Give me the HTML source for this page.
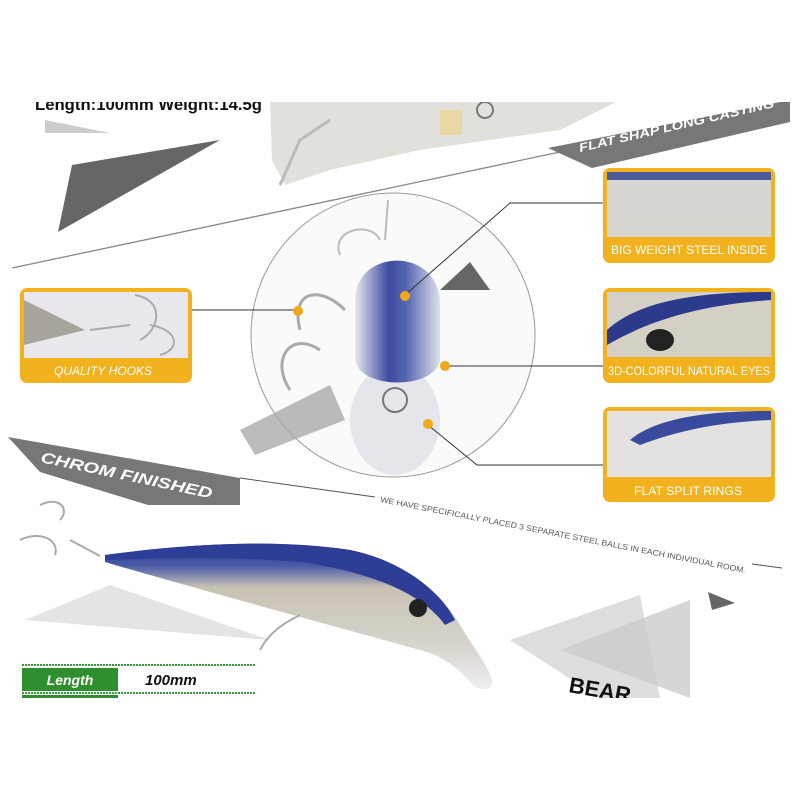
<!DOCTYPE html>
<html><head><meta charset="utf-8"><style>
html,body{margin:0;padding:0;background:#fff;width:800px;height:800px;overflow:hidden}
svg{display:block}
text{font-family:"Liberation Sans",sans-serif}
</style></head><body>
<svg width="800" height="800" viewBox="0 0 800 800" xmlns="http://www.w3.org/2000/svg">
<defs>
<clipPath id="c"><rect x="0" y="102" width="800" height="596"/></clipPath>
<linearGradient id="body" x1="0" y1="0" x2="0" y2="1"><stop offset="0" stop-color="#2a3a8c"/><stop offset="0.15" stop-color="#4a5aa8"/><stop offset="0.3" stop-color="#c8c2b4"/><stop offset="0.7" stop-color="#d8d4cc"/><stop offset="1" stop-color="#eeeef2"/></linearGradient>
<linearGradient id="head" x1="0" y1="0" x2="1" y2="0"><stop offset="0" stop-color="#e8e8f0"/><stop offset="0.4" stop-color="#3b4aa0"/><stop offset="0.6" stop-color="#5566b0"/><stop offset="1" stop-color="#e0e0ea"/></linearGradient>
</defs>
<g clip-path="url(#c)">
<text x="35" y="110" font-size="17" font-weight="bold" fill="#111" textLength="227" lengthAdjust="spacingAndGlyphs">Length:100mm Weight:14.5g</text>
<polygon points="45,120 110,133 45,133" fill="#ccc"/>
<polygon points="72,165 220,140 58,232" fill="#666"/>
<!-- top lure -->
<path d="M270,100 L620,100 L560,130 L420,150 L330,170 L285,185 L272,160 Z" fill="#e2e0da"/>
<path d="M280,185 L300,140 L330,120" stroke="#bbb" stroke-width="3" fill="none"/>
<rect x="440" y="110" width="22" height="25" fill="#e8d8a8"/>
<circle cx="485" cy="110" r="8" fill="none" stroke="#777" stroke-width="2"/>
<line x1="12" y1="268" x2="560" y2="152" stroke="#888" stroke-width="1.3"/>
<polygon points="548,148 780,102 790,102 790,122 592,168" fill="#777"/>
<text x="0" y="0" font-size="12" font-weight="bold" font-style="italic" fill="#fff" transform="translate(580,152) rotate(-13)" textLength="200" lengthAdjust="spacingAndGlyphs">FLAT SHAP LONG CASTING</text>
<!-- circle -->
<circle cx="393" cy="335" r="142" fill="#fafafa" stroke="#999" stroke-width="1"/>
<polygon points="470,262 490,290 440,290" fill="#666"/>
<polygon points="240,430 330,385 345,420 255,455" fill="#aaa" opacity="0.8"/>
<path d="M300,330 C290,290 320,285 345,310 M290,390 C270,360 290,330 320,350" stroke="#aaa" stroke-width="3" fill="none"/>
<path d="M340,255 C330,230 370,220 380,240 M385,240 L388,200" stroke="#bbb" stroke-width="2" fill="none"/>
<ellipse cx="395" cy="420" rx="45" ry="55" fill="#e4e6ec"/>
<path d="M355,300 C355,250 435,245 440,300 L440,360 C435,390 360,390 355,360 Z" fill="url(#head)"/>
<circle cx="395" cy="400" r="12" fill="none" stroke="#777" stroke-width="2"/>
<!-- connectors -->
<polyline points="603,203 510,203 405,295" stroke="#333" fill="none"/>
<circle cx="405" cy="296" r="5" fill="#f0a818"/>
<line x1="192" y1="310" x2="297" y2="310" stroke="#333"/>
<circle cx="298" cy="311" r="5" fill="#f0a818"/>
<line x1="445" y1="366" x2="603" y2="366" stroke="#333"/>
<circle cx="445" cy="366" r="5" fill="#f0a818"/>
<polyline points="603,465 477,465 428,425" stroke="#333" fill="none"/>
<circle cx="428" cy="424" r="5" fill="#f0a818"/>
<!-- boxes -->
<g>
<rect x="603" y="168" width="172" height="95" rx="7" fill="#f2b21e"/>
<rect x="607" y="172" width="164" height="65" fill="#d8d6d0"/>
<rect x="607" y="172" width="164" height="8" fill="#4a5a9a"/>
<text x="689" y="254" font-size="12" fill="#fff" text-anchor="middle" textLength="156" lengthAdjust="spacingAndGlyphs">BIG WEIGHT STEEL INSIDE</text>
</g>
<g>
<rect x="603" y="288" width="172" height="95" rx="7" fill="#f2b21e"/>
<rect x="607" y="292" width="164" height="65" fill="#d4d0c6"/>
<path d="M607,330 C640,300 700,292 771,292 L771,300 C700,305 650,320 607,345 Z" fill="#2b3a8a"/>
<ellipse cx="660" cy="340" rx="14" ry="11" fill="#222"/>
<text x="689" y="375" font-size="12" fill="#fff" text-anchor="middle" textLength="162" lengthAdjust="spacingAndGlyphs">3D-COLORFUL NATURAL EYES</text>
</g>
<g>
<rect x="603" y="407" width="172" height="95" rx="7" fill="#f2b21e"/>
<rect x="607" y="411" width="164" height="66" fill="#e4e2e0"/>
<path d="M630,440 C660,415 720,411 771,411 L771,420 C720,422 680,430 640,445 Z" fill="#3a4a9e"/>
<text x="688" y="495" font-size="12" fill="#fff" text-anchor="middle" textLength="108" lengthAdjust="spacingAndGlyphs">FLAT SPLIT RINGS</text>
</g>
<g>
<rect x="20" y="288" width="172" height="95" rx="7" fill="#f2b21e"/>
<rect x="24" y="292" width="164" height="66" fill="#e8e8ec"/>
<polygon points="24,300 85,330 24,345" fill="#a8a49c"/>
<path d="M90,330 L130,325 M135,295 C165,300 160,330 140,340 M150,325 C180,330 180,350 160,355" stroke="#aaa" stroke-width="2" fill="none"/>
<text x="103" y="375" font-size="12" font-style="italic" fill="#fff" text-anchor="middle" textLength="98" lengthAdjust="spacingAndGlyphs">QUALITY HOOKS</text>
</g>
<!-- chrom banner -->
<polygon points="8,437 240,478 240,505 148,505 40,472" fill="#777"/>
<text x="0" y="0" font-size="15" font-weight="bold" font-style="italic" fill="#fff" transform="translate(40,462) rotate(12)" textLength="175" lengthAdjust="spacingAndGlyphs">CHROM FINISHED</text>
<line x1="240" y1="478" x2="375" y2="497" stroke="#555"/>
<text x="0" y="0" font-size="8" fill="#555" transform="translate(380,502) rotate(11)" textLength="372" lengthAdjust="spacingAndGlyphs">WE HAVE SPECIFICALLY PLACED 3 SEPARATE STEEL BALLS IN EACH INDIVIDUAL ROOM.</text>
<line x1="752" y1="564" x2="782" y2="568" stroke="#555"/>
<!-- bottom triangles -->
<polygon points="25,620 110,585 270,640" fill="#e4e4e4"/>
<polygon points="510,640 640,595 660,698 600,698" fill="#ddd"/>
<polygon points="560,650 690,600 690,698" fill="#ccc" opacity="0.8"/>
<polygon points="708,592 735,603 712,610" fill="#666"/>
<!-- main lure -->
<path d="M105,555 C180,545 270,538 350,550 C400,560 440,590 460,625 C475,650 488,665 492,680 C494,692 478,692 470,682 C455,665 440,655 420,650 C330,625 200,590 105,562 Z" fill="url(#body)"/>
<path d="M105,555 C180,545 270,538 350,550 C400,560 440,590 455,620 L445,625 C420,590 360,570 300,562 C230,556 160,558 105,560 Z" fill="#2e3d95"/>
<circle cx="418" cy="608" r="9" fill="#222"/>
<path d="M100,556 L70,540 M40,505 C60,495 70,510 60,520 M20,540 C40,530 60,540 55,555" stroke="#aaa" stroke-width="2" fill="none"/>
<path d="M260,650 C270,630 290,620 300,615" stroke="#aaa" stroke-width="2" fill="none"/>
<!-- spec table -->
<line x1="22" y1="665" x2="255" y2="665" stroke="#3a9a3a" stroke-width="2" stroke-dasharray="2,1"/>
<rect x="22" y="668" width="96" height="23" fill="#2f8f2f"/>
<text x="70" y="685" font-size="14" font-weight="bold" font-style="italic" fill="#fff" text-anchor="middle">Length</text>
<text x="145" y="685" font-size="15" font-weight="bold" font-style="italic" fill="#111">100mm</text>
<line x1="22" y1="693" x2="255" y2="693" stroke="#3a9a3a" stroke-width="2" stroke-dasharray="2,1"/>
<rect x="22" y="695" width="96" height="10" fill="#2f8f2f"/>
<text x="0" y="0" font-size="22" font-weight="bold" fill="#111" transform="translate(568,692) rotate(10)">BEAR</text>
</g>
</svg>
</body></html>
